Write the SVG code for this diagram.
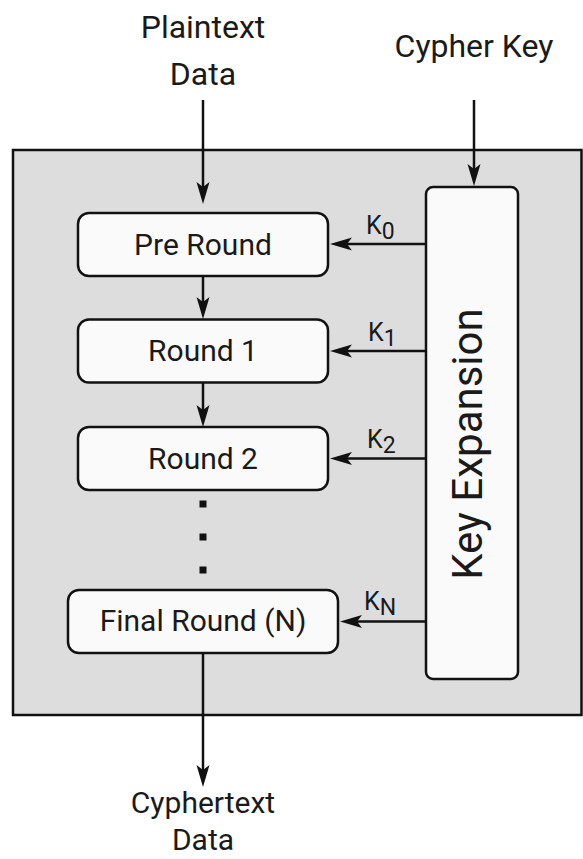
<svg xmlns="http://www.w3.org/2000/svg" width="583" height="859" viewBox="0 0 583 859">
<defs>
<style>
text{font-family:Roboto,"Liberation Sans",sans-serif;fill:#1a1a1a}
.lbl{font-size:32px;text-anchor:middle}
.lblb{font-size:30px;text-anchor:middle}
.node{fill:#fafafa;stroke:#111;stroke-width:2.5}
.ntext{font-size:30px;text-anchor:middle}
.k{font-size:25px}
.ks{font-size:23px}
.conn{fill:none;stroke:#111;stroke-width:2.5}
</style>
<marker id="ah" viewBox="-15 -7 24 14" refX="0" refY="0" markerWidth="24" markerHeight="14" markerUnits="userSpaceOnUse" orient="auto">
<path d="M8,0 L-14,-6.5 L-9,0 L-14,6.5 Z" fill="#111"/>
</marker>
</defs>
<rect width="583" height="859" fill="#ffffff"/>
<g id="container">
<rect x="13" y="150" width="568.5" height="565" fill="#dddddd" stroke="#111" stroke-width="2.5"/>
</g>
<g id="inputs">
<text class="lbl" x="203" y="38">Plaintext</text>
<text class="lbl" x="203" y="85">Data</text>
<text class="lbl" x="474" y="57">Cypher Key</text>
</g>
<g id="output">
<text class="lblb" x="203" y="813">Cyphertext</text>
<text class="lblb" x="203" y="850">Data</text>
</g>
<g id="pre-round">
<rect class="node" x="78" y="213" width="250" height="63" rx="11"/>
<text class="ntext" x="203" y="254.5">Pre Round</text>
</g>
<g id="round-1">
<rect class="node" x="78" y="319.5" width="250" height="63" rx="11"/>
<text class="ntext" x="203" y="361">Round 1</text>
</g>
<g id="round-2">
<rect class="node" x="78" y="427" width="250" height="63" rx="11"/>
<text class="ntext" x="203" y="468.5">Round 2</text>
</g>
<g id="final-round">
<rect class="node" x="68" y="590" width="270" height="63" rx="11"/>
<text class="ntext" x="203" y="631">Final Round (N)</text>
</g>
<g id="key-expansion">
<rect class="node" x="426" y="187" width="92" height="492" rx="7"/>
<text x="482" y="444" font-size="42" text-anchor="middle" transform="rotate(-90 482 444)">Key Expansion</text>
</g>
<g id="dots" fill="#111">
<rect x="199.5" y="500.5" width="7" height="7"/>
<rect x="199.5" y="533.5" width="7" height="7"/>
<rect x="199.5" y="566.5" width="7" height="7"/>
</g>
<g id="connectors">
<path class="conn" d="M203,100 V196" marker-end="url(#ah)"/>
<path class="conn" d="M474,100 V178" marker-end="url(#ah)"/>
<path class="conn" d="M203,276 V311" marker-end="url(#ah)"/>
<path class="conn" d="M203,383 V419" marker-end="url(#ah)"/>
<path class="conn" d="M203,653 V779" marker-end="url(#ah)"/>
<path class="conn" d="M426,244 H338" marker-end="url(#ah)"/>
<path class="conn" d="M426,351 H338" marker-end="url(#ah)"/>
<path class="conn" d="M426,458.5 H338" marker-end="url(#ah)"/>
<path class="conn" d="M426,621.5 H348" marker-end="url(#ah)"/>
</g>
<g id="key-labels">
<text class="k" x="366" y="234">K<tspan class="ks" dy="5">0</tspan></text>
<text class="k" x="368" y="341">K<tspan class="ks" dy="5">1</tspan></text>
<text class="k" x="367" y="448">K<tspan class="ks" dy="5">2</tspan></text>
<text class="k" x="364" y="610">K<tspan class="ks" dy="5">N</tspan></text>
</g>
</svg>
